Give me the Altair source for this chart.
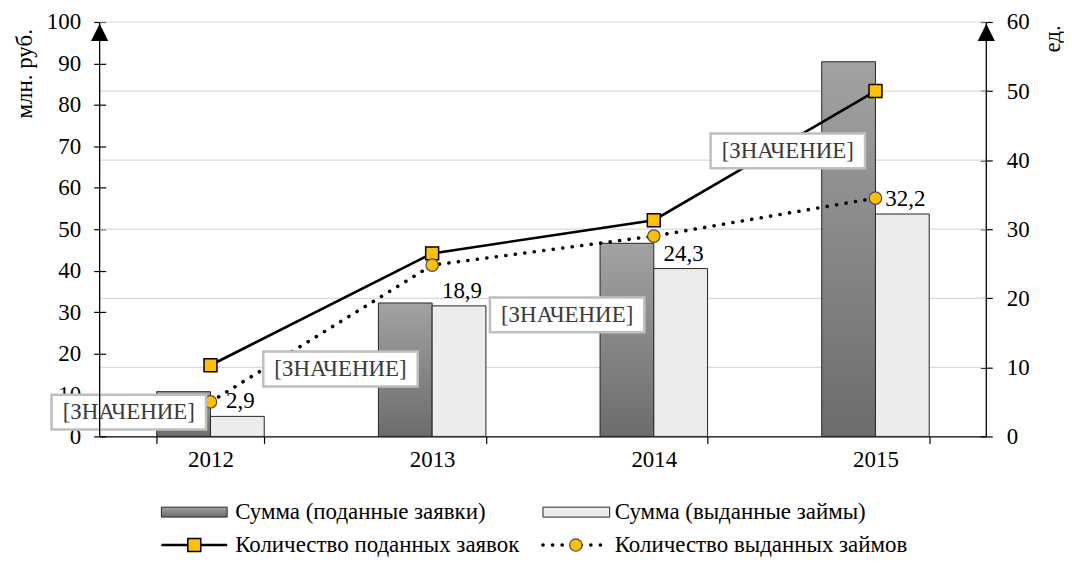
import altair as alt
import pandas as pd

# ---------------- data ----------------
years = ["2012", "2013", "2014", "2015"]
sum_submitted = [10.8, 32.2, 46.6, 90.4]      # млн. руб. (left axis)
sum_issued = [2.9, 18.9, 24.3, 32.2]          # plotted against the right scale
sum_issued_labels = ["2,9", "18,9", "24,3", "32,2"]
count_submitted = [10.3, 26.5, 31.3, 50.0]    # ед. (right axis)
count_issued = [5.0, 24.8, 29.0, 34.5]        # ед. (right axis)
left_ticks = [0, 10, 20, 30, 40, 50, 60, 70, 80, 90, 100]
right_ticks = [0, 10, 20, 30, 40, 50, 60]
grid_values = [10, 20, 30, 40, 50, 60]
placeholder = "[ЗНАЧЕНИЕ]"
legend_labels = [
    "Сумма (поданные заявки)",
    "Сумма (выданные займы)",
    "Количество поданных заявок",
    "Количество выданных займов",
]

# ---------------- style ----------------
W, H = 890, 416
FONT = "Liberation Serif"
FS = 23
LFS = 23
YELLOW = "#FFC000"
GRAY_GRAD = alt.LinearGradient(
    gradient="linear",
    stops=[alt.GradientStop(color="#a2a2a2", offset=0),
           alt.GradientStop(color="#6c6c6c", offset=1)],
    x1=0, x2=0, y1=0, y2=1,
)
DOT_FILL = "#ececec"
BOX_PATH = "M-1,-0.226L1,-0.226L1,0.226L-1,0.226Z"
ARROW_PATH = "M0,-1L1,1L-1,1Z"
# placement of the "[ЗНАЧЕНИЕ]" boxes relative to the square markers (px)
LABEL_DX = [-82, -92, -87, -88]
LABEL_DY = [47, 116, 95, 60]

df = pd.DataFrame({
    "year": years,
    "sum_submitted": sum_submitted,
    "sum_issued": sum_issued,
    "sum_issued_label": sum_issued_labels,
    "count_submitted": count_submitted,
    "count_issued": count_issued,
})
grid_df = pd.DataFrame({"v": grid_values})
one = pd.DataFrame({"k": [0]})

X = alt.X(
    "year:N",
    sort=years,
    scale=alt.Scale(domain=years, paddingInner=0.515, paddingOuter=0.2575),
    axis=alt.Axis(
        title=None, labelFont=FONT, labelFontSize=FS, labelColor="black",
        labelAngle=0, domainColor="black", domainWidth=1.2, tickColor="black",
        tickSize=7, tickWidth=1.2, tickBand="extent", labelPadding=5, grid=False,
    ),
)
XOFF = alt.Scale(domain=["a", "b"], paddingInner=0, paddingOuter=0)

y_left_scale = alt.Scale(domain=[0, 100], nice=False, zero=True)
y_right_scale = alt.Scale(domain=[0, 60], nice=False, zero=True)

left_axis = alt.Axis(
    orient="left", offset=-6, tickSize=12, tickWidth=1.2, tickColor="black",
    domain=False, grid=False, values=left_ticks, title=None,
    labelFont=FONT, labelFontSize=FS, labelColor="black", labelPadding=13,
)
right_axis = alt.Axis(
    orient="right", offset=-6, tickSize=12, tickWidth=1.2, tickColor="black",
    domain=False, grid=False, values=right_ticks, title=None,
    labelFont=FONT, labelFontSize=FS, labelColor="black", labelPadding=14,
)

# ---------------- gridlines (right scale) ----------------
grid_layer = alt.Chart(grid_df).mark_rule(color="#d9d9d9", strokeWidth=1.2).encode(
    y=alt.Y("v:Q", scale=y_right_scale, axis=None),
    x=alt.value(0), x2=alt.value(W),
)

# ---------------- left layer: submitted sums ----------------
left_layer = alt.Chart(df).transform_calculate(s="'a'").mark_bar(
    color=GRAY_GRAD, stroke="#262626", strokeWidth=1
).encode(
    x=X,
    xOffset=alt.XOffset("s:N", scale=XOFF),
    y=alt.Y("sum_submitted:Q", scale=y_left_scale, axis=left_axis),
)

# ---------------- right layer ----------------
base = alt.Chart(df)
issued_bars = base.transform_calculate(s="'b'").mark_bar(
    fill=DOT_FILL, stroke="#262626", strokeWidth=1
).encode(
    x=X,
    xOffset=alt.XOffset("s:N", scale=XOFF),
    y=alt.Y("sum_issued:Q", scale=y_right_scale, axis=right_axis),
)
issued_text = base.transform_calculate(s="'b'").mark_text(
    font=FONT, fontSize=FS, color="black", dy=-15, dx=3, baseline="middle"
).encode(
    x=X,
    xOffset=alt.XOffset("s:N", scale=XOFF),
    y=alt.Y("sum_issued:Q", scale=y_right_scale),
    text="sum_issued_label:N",
)
line_sub = base.mark_line(color="black", strokeWidth=2.6).encode(
    x=X, y=alt.Y("count_submitted:Q", scale=y_right_scale)
)
line_iss = base.mark_line(
    color="black", strokeWidth=3.6, strokeDash=[0.1, 9.5], strokeCap="round"
).encode(
    x=X, y=alt.Y("count_issued:Q", scale=y_right_scale)
)
pts_sub = base.mark_point(
    shape="square", size=169, filled=True, fill=YELLOW, stroke="black",
    strokeWidth=1.5, opacity=1
).encode(x=X, y=alt.Y("count_submitted:Q", scale=y_right_scale))
pts_iss = base.mark_point(
    shape="circle", size=156, filled=True, fill=YELLOW, stroke="#4d4d4d",
    strokeWidth=1.2, opacity=1
).encode(x=X, y=alt.Y("count_issued:Q", scale=y_right_scale))

boxes = []
for yr, dx, dy in zip(years, LABEL_DX, LABEL_DY):
    b = base.transform_filter(alt.datum.year == yr)
    boxes.append(
        b.mark_point(
            shape=BOX_PATH, size=155 ** 2, filled=True, fill="white",
            stroke="#bfbfbf", strokeWidth=2.5, opacity=1, fillOpacity=1,
            xOffset=dx, yOffset=dy,
        ).encode(x=X, y=alt.Y("count_submitted:Q", scale=y_right_scale))
    )
    boxes.append(
        b.mark_text(
            text=placeholder, font=FONT, fontSize=FS, color="#3a3a3a",
            dx=dx, dy=dy, baseline="middle", align="center",
        ).encode(x=X, y=alt.Y("count_submitted:Q", scale=y_right_scale))
    )

# axis lines, arrows, titles
deco = alt.Chart(one)
axis_lines = [
    deco.mark_rule(color="black", strokeWidth=1.3).encode(
        x=alt.value(0), y=alt.value(0), y2=alt.value(H)),
    deco.mark_rule(color="black", strokeWidth=1.3).encode(
        x=alt.value(W), y=alt.value(0), y2=alt.value(H)),
    deco.mark_point(shape=ARROW_PATH, size=196, filled=True, fill="black",
                    stroke="black", opacity=1).encode(
        x=alt.value(0), y=alt.value(11)),
    deco.mark_point(shape=ARROW_PATH, size=196, filled=True, fill="black",
                    stroke="black", opacity=1).encode(
        x=alt.value(W), y=alt.value(11)),
    deco.mark_text(text="млн. руб.", font=FONT, fontSize=FS, angle=270,
                   color="black", align="center", baseline="middle").encode(
        x=alt.value(-75), y=alt.value(52)),
    deco.mark_text(text="ед.", font=FONT, fontSize=FS, angle=270,
                   color="black", align="center", baseline="middle").encode(
        x=alt.value(957), y=alt.value(17)),
]

# manual legend
R1, R2 = 492, 525
legend = [
    deco.mark_rect(color=GRAY_GRAD, stroke="#262626", strokeWidth=1).encode(
        x=alt.value(62), x2=alt.value(128), y=alt.value(R1 - 5), y2=alt.value(R1 + 5)),
    deco.mark_text(text=legend_labels[0], font=FONT, fontSize=LFS, color="black",
                   align="left", baseline="middle").encode(
        x=alt.value(136), y=alt.value(R1)),
    deco.mark_rect(fill=DOT_FILL, stroke="#262626", strokeWidth=1).encode(
        x=alt.value(445), x2=alt.value(512), y=alt.value(R1 - 5), y2=alt.value(R1 + 5)),
    deco.mark_text(text=legend_labels[1], font=FONT, fontSize=LFS, color="black",
                   align="left", baseline="middle").encode(
        x=alt.value(517), y=alt.value(R1)),
    deco.mark_rule(color="black", strokeWidth=2.6).encode(
        x=alt.value(62), x2=alt.value(128), y=alt.value(R2)),
    deco.mark_point(shape="square", size=169, filled=True, fill=YELLOW,
                    stroke="black", strokeWidth=1.5, opacity=1).encode(
        x=alt.value(95), y=alt.value(R2)),
    deco.mark_text(text=legend_labels[2], font=FONT, fontSize=LFS, color="black",
                   align="left", baseline="middle").encode(
        x=alt.value(136), y=alt.value(R2)),
    deco.mark_rule(color="black", strokeWidth=3.6, strokeDash=[0.1, 9.5],
                   strokeCap="round").encode(
        x=alt.value(445), x2=alt.value(508), y=alt.value(R2)),
    deco.mark_point(shape="circle", size=156, filled=True, fill=YELLOW,
                    stroke="#4d4d4d", strokeWidth=1.2, opacity=1).encode(
        x=alt.value(478), y=alt.value(R2)),
    deco.mark_text(text=legend_labels[3], font=FONT, fontSize=LFS, color="black",
                   align="left", baseline="middle").encode(
        x=alt.value(517), y=alt.value(R2)),
]

right_layer = alt.layer(
    issued_bars, line_sub, line_iss, pts_sub, pts_iss, *boxes, issued_text,
    *axis_lines, *legend,
)

chart = alt.layer(grid_layer, left_layer, right_layer).resolve_scale(
    y="independent"
).properties(
    width=W, height=H,
    padding={"left": 92, "top": 13, "right": 78, "bottom": 122},
    autosize=alt.AutoSizeParams(type="none"),
).configure_view(stroke=None)

chart.save("out.html", embed_options={"renderer": "svg", "actions": False})
